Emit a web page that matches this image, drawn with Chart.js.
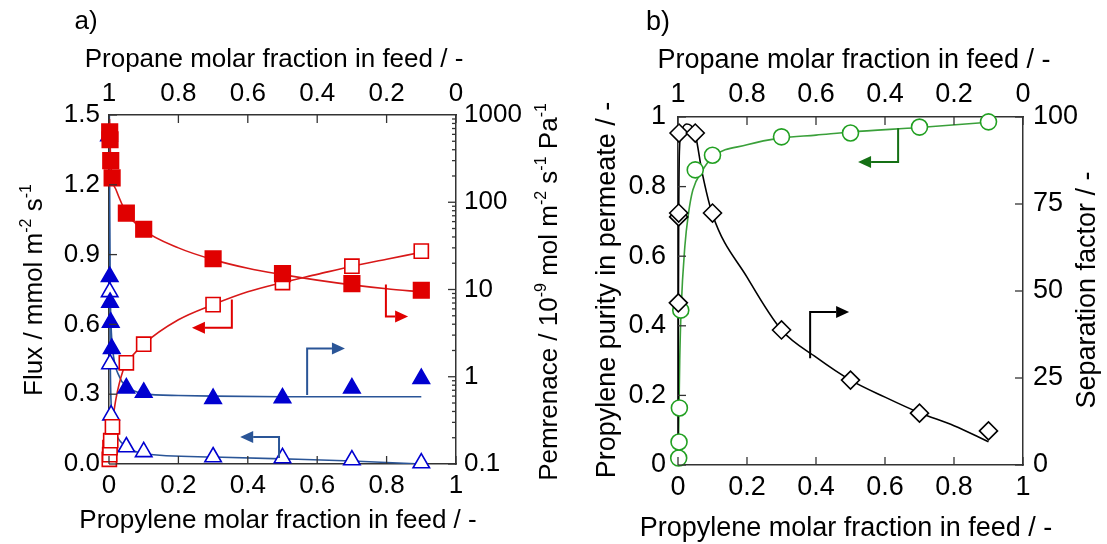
<!DOCTYPE html>
<html>
<head>
<meta charset="utf-8">
<script src="https://cdn.jsdelivr.net/npm/chart.js@4.4.1/dist/chart.umd.min.js"></script>
<style>
  html, body { margin: 0; padding: 0; background: #fff; }
  #wrap { position: relative; width: 1107px; height: 544px; }
  #chartA { position: absolute; left: 0; top: 0; }
  #chartB { position: absolute; left: 560px; top: 0; }
</style>
</head>
<body>
<div id="wrap">
  <canvas id="chartA" width="560" height="544"></canvas>
  <canvas id="chartB" width="547" height="544"></canvas>
</div>
<script>
// ============================================================================
// DATA
// ============================================================================

// tick labels
const fracTicks = [0, 0.2, 0.4, 0.6, 0.8, 1];
const fluxTicks = [0, 0.3, 0.6, 0.9, 1.2, 1.5];
const permTicks = [0.1, 1, 10, 100, 1000];
const purityTicks = [0, 0.2, 0.4, 0.6, 0.8, 1];
const sfTicks = [0, 25, 50, 75, 100];

// a) propylene: open squares = flux (left), filled squares = permeance (right)
const c3h6FluxX = [0.001, 0.002, 0.003, 0.005, 0.01, 0.05, 0.1, 0.3, 0.5, 0.7, 0.9];
const c3h6FluxY = [0.02, 0.04, 0.07, 0.10, 0.16, 0.435, 0.515, 0.685, 0.78, 0.85, 0.915];
const c3h6PermX = [0.002, 0.003, 0.005, 0.009, 0.05, 0.1, 0.3, 0.5, 0.7, 0.9];
const c3h6PermY = [640, 520, 300, 190, 75, 49, 22.5, 15.2, 11.7, 9.8];

// a) propane: open triangles = flux (left), filled triangles = permeance (right)
const c3h8FluxX = [0, 0.002, 0.003, 0.006, 0.05, 0.1, 0.3, 0.5, 0.7, 0.9];
const c3h8FluxY = [1.41, 0.74, 0.43, 0.21, 0.073, 0.052, 0.03, 0.026, 0.017, 0.004];
const c3h8PermX = [0.002, 0.003, 0.005, 0.008, 0.05, 0.1, 0.3, 0.5, 0.7, 0.9];
const c3h8PermY = [14, 7.1, 4.2, 2.1, 0.74, 0.66, 0.56, 0.57, 0.74, 0.95];

// a) fitted curves
const c3h6FluxFitX = [0, 0.002, 0.005, 0.01, 0.02, 0.04, 0.05, 0.1, 0.2, 0.3, 0.4, 0.5, 0.6, 0.7, 0.8, 0.9];
const c3h6FluxFitY = [0, 0.06, 0.12, 0.18, 0.28, 0.40, 0.43, 0.515, 0.62, 0.685, 0.74, 0.78, 0.815, 0.85, 0.88, 0.91];
const c3h6PermFitX = [0.0015, 0.003, 0.005, 0.009, 0.02, 0.05, 0.1, 0.2, 0.3, 0.4, 0.5, 0.6, 0.7, 0.8, 0.9];
const c3h6PermFitY = [900, 520, 300, 190, 140, 76, 48, 30, 22, 17.5, 14.8, 12.8, 11.3, 10.2, 9.4];
const c3h8FluxFitX = [0, 0.002, 0.004, 0.008, 0.02, 0.05, 0.1, 0.3, 0.5, 0.7, 0.9];
const c3h8FluxFitY = [1.5, 0.8, 0.4, 0.22, 0.13, 0.075, 0.045, 0.03, 0.022, 0.013, 0.0];
const c3h8PermFitX = [0.001, 0.002, 0.003, 0.005, 0.01, 0.03, 0.05, 0.1, 0.2, 0.3, 0.5, 0.7, 0.9];
const c3h8PermFitY = [1000, 60, 15, 5, 2.2, 1.0, 0.78, 0.64, 0.61, 0.6, 0.59, 0.59, 0.59];

// b) purity (circles, left) and separation factor (diamonds, right)
const purityX = [0.002, 0.003, 0.004, 0.008, 0.05, 0.1, 0.3, 0.5, 0.7, 0.9];
const purityY = [0.02, 0.066, 0.164, 0.445, 0.848, 0.89, 0.943, 0.954, 0.971, 0.986];
const sfX = [0.001, 0.002, 0.002, 0.003, 0.05, 0.1, 0.3, 0.5, 0.7, 0.9];
const sfY = [46.6, 71.3, 72.4, 95.4, 95.4, 72.4, 38.8, 24.4, 14.9, 9.8];

// b) fitted curves
const purityFitX = [0, 0.002, 0.005, 0.009, 0.02, 0.03, 0.043, 0.07, 0.1, 0.2, 0.3, 0.4, 0.5, 0.7, 0.9];
const purityFitY = [0, 0.1, 0.3, 0.445, 0.63, 0.72, 0.79, 0.845, 0.885, 0.92, 0.94, 0.948, 0.957, 0.97, 0.985];
const sfFitX = [0, 0.001, 0.002, 0.004, 0.01, 0.025, 0.05, 0.07, 0.1, 0.2, 0.3, 0.4, 0.5, 0.6, 0.7, 0.8, 0.9];
const sfFitY = [0, 40, 70, 90, 96, 98, 95, 84, 72, 54, 38.8, 31, 24.4, 19.5, 15, 11.3, 6.7];

// ============================================================================
// STYLE HELPERS
// ============================================================================

const FONT = '"Liberation Sans", Arial, Helvetica, sans-serif';
const AXIS = '#333';
const RED = '#e00000';
const BLUE = '#0000d0';
const BLUE_LINE = '#2a5597';
const GREEN = '#22a022';

const pts = (xs, ys) => xs.map((x, i) => ({ x: x, y: ys[i] }));
const fracLabel = v => (v === 0 || v === 1) ? String(v) : v.toFixed(1);

function markers(xs, ys, axis, style, radius, fill, stroke) {
    return {
        type: 'scatter', data: pts(xs, ys), yAxisID: axis, clip: false,
        pointStyle: style, pointRadius: radius, pointHoverRadius: radius,
        backgroundColor: fill, borderColor: stroke, borderWidth: 1.6
    };
}

function fitLine(xs, ys, axis, color) {
    return {
        type: 'line', data: pts(xs, ys), yAxisID: axis,
        borderColor: color, borderWidth: 1.6, pointRadius: 0,
        cubicInterpolationMode: 'monotone', fill: false
    };
}

function axis(position, ticksList, size, fmt, padding, fitSize, extra) {
    return Object.assign({
        type: 'linear', position: position,
        min: ticksList[0], max: ticksList[ticksList.length - 1],
        afterBuildTicks: s => { s.ticks = ticksList.map(v => ({ value: v })); },
        ticks: { font: { family: FONT, size: size }, color: '#000', padding: padding, callback: fmt, maxRotation: 0, autoSkip: false },
        grid: { display: false, drawTicks: false },
        border: { color: AXIS, width: 1.5 },
        afterFit: s => {
            if (position === 'left' || position === 'right') s.width = fitSize;
            else s.height = fitSize;
        }
    }, extra || {});
}

// ============================================================================
// PLUGINS: inward ticks, arrows, titles
// ============================================================================

function innerTicks(logRight) {
    return {
        id: 'innerTicks',
        afterDatasetsDraw(chart) {
            const { ctx, chartArea: a, scales } = chart;
            ctx.save();
            ctx.strokeStyle = AXIS;
            ctx.lineWidth = 1.3;
            const line = (x1, y1, x2, y2) => { ctx.beginPath(); ctx.moveTo(x1, y1); ctx.lineTo(x2, y2); ctx.stroke(); };
            scales.x.ticks.forEach(t => {
                const px = scales.x.getPixelForValue(t.value);
                line(px, a.bottom, px, a.bottom - 8);
                line(px, a.top, px, a.top + 8);
            });
            scales.yL.ticks.forEach(t => {
                const py = scales.yL.getPixelForValue(t.value);
                line(a.left, py, a.left + 8, py);
            });
            if (logRight) {
                [0.1, 1, 10, 100].forEach(d => {
                    for (let k = 1; k < 10; k++) {
                        const py = scales.yR.getPixelForValue(k * d);
                        line(a.right, py, a.right - (k === 1 ? 8 : 4), py);
                    }
                });
            } else {
                scales.yR.ticks.forEach(t => {
                    const py = scales.yR.getPixelForValue(t.value);
                    line(a.right, py, a.right - 8, py);
                });
            }
            ctx.restore();
        }
    };
}

function arrowPlugin(list) {
    return {
        id: 'arrows',
        afterDatasetsDraw(chart) {
            const { ctx, scales } = chart;
            list.forEach(ar => {
                const p = ar.path.map(([x, y]) => [scales.x.getPixelForValue(x), scales.yL.getPixelForValue(y)]);
                const [x1, y1] = p[p.length - 2];
                const [x2, y2] = p[p.length - 1];
                const ang = Math.atan2(y2 - y1, x2 - x1);
                const head = 13, half = 6;
                ctx.save();
                ctx.strokeStyle = ar.color;
                ctx.fillStyle = ar.color;
                ctx.lineWidth = 2;
                ctx.beginPath();
                p.forEach(([x, y], i) => {
                    if (i === p.length - 1) ctx.lineTo(x - head * Math.cos(ang), y - head * Math.sin(ang));
                    else if (i === 0) ctx.moveTo(x, y);
                    else ctx.lineTo(x, y);
                });
                ctx.stroke();
                ctx.beginPath();
                ctx.moveTo(x2, y2);
                ctx.lineTo(x2 - head * Math.cos(ang) - half * Math.sin(ang), y2 - head * Math.sin(ang) + half * Math.cos(ang));
                ctx.lineTo(x2 - head * Math.cos(ang) + half * Math.sin(ang), y2 - head * Math.sin(ang) - half * Math.cos(ang));
                ctx.closePath();
                ctx.fill();
                ctx.restore();
            });
        }
    };
}

// parts: [text, isSuperscript]
function richText(ctx, parts, x, y, size, rot) {
    ctx.save();
    ctx.translate(x, y);
    ctx.rotate(rot);
    ctx.fillStyle = '#000';
    ctx.textBaseline = 'alphabetic';
    const fontFor = sup => (sup ? Math.round(size * 0.62) : size) + 'px ' + FONT;
    let total = 0;
    parts.forEach(([t, sup]) => { ctx.font = fontFor(sup); total += ctx.measureText(t).width; });
    let cx = -total / 2;
    const base = size * 0.36;
    parts.forEach(([t, sup]) => {
        ctx.font = fontFor(sup);
        ctx.fillText(t, cx, sup ? base - size * 0.42 : base);
        cx += ctx.measureText(t).width;
    });
    ctx.restore();
}

function titlePlugin(list) {
    return {
        id: 'titles',
        afterDraw(chart) {
            list.forEach(t => richText(chart.ctx, t.parts, t.x, t.y, t.size, t.rot || 0));
        }
    };
}

// ============================================================================
// PANEL a)
// ============================================================================

const arrowsA = [
    { color: RED, path: [[0.354, 0.707], [0.354, 0.586], [0.239, 0.586]] },
    { color: RED, path: [[0.798, 0.772], [0.798, 0.634], [0.862, 0.634]] },
    { color: BLUE_LINE, path: [[0.571, 0.297], [0.571, 0.496], [0.680, 0.496]] },
    { color: BLUE_LINE, path: [[0.49, 0.026], [0.49, 0.116], [0.378, 0.116]] }
];

const titlesA = [
    { parts: [['a)', 0]], x: 86, y: 20, size: 26 },
    { parts: [['Propane molar fraction in feed / -', 0]], x: 274, y: 58, size: 26 },
    { parts: [['Propylene molar fraction in feed / -', 0]], x: 278, y: 519, size: 26 },
    { parts: [['Flux / mmol m', 0], ['-2', 1], [' s', 0], ['-1', 1]], x: 33, y: 290, size: 26, rot: -Math.PI / 2 },
    { parts: [['Pemrenace / 10', 0], ['-9', 1], [' mol m', 0], ['-2', 1], [' s', 0], ['-1', 1], [' Pa', 0], ['-1', 1]], x: 548, y: 292, size: 26, rot: -Math.PI / 2 }
];

new Chart(document.getElementById('chartA'), {
    data: {
        datasets: [
            markers(c3h6PermX, c3h6PermY, 'yR', 'rect', 11, RED, RED),
            markers(c3h6FluxX, c3h6FluxY, 'yL', 'rect', 10, '#fff', RED),
            markers(c3h8PermX, c3h8PermY, 'yR', 'triangle', 9.5, BLUE, BLUE),
            markers(c3h8FluxX, c3h8FluxY, 'yL', 'triangle', 9.5, '#fff', BLUE),
            fitLine(c3h6PermFitX, c3h6PermFitY, 'yR', '#d81818'),
            fitLine(c3h6FluxFitX, c3h6FluxFitY, 'yL', '#d81818'),
            fitLine(c3h8PermFitX, c3h8PermFitY, 'yR', BLUE_LINE),
            fitLine(c3h8FluxFitX, c3h8FluxFitY, 'yL', BLUE_LINE)
        ]
    },
    options: {
        responsive: false,
        animation: false,
        layout: { padding: 0 },
        plugins: { legend: { display: false }, tooltip: { enabled: false } },
        scales: {
            x: axis('bottom', fracTicks, 26, fracLabel, 6, 80),
            x2: axis('top', fracTicks, 26, fracLabel, 6, 115, { reverse: true }),
            yL: axis('left', fluxTicks, 26, v => v.toFixed(1), 9, 109),
            yR: axis('right', permTicks, 26, v => String(v), 8, 104, { type: 'logarithmic' })
        }
    },
    plugins: [innerTicks(true), arrowPlugin(arrowsA), titlePlugin(titlesA)]
});

// ============================================================================
// PANEL b)
// ============================================================================

const arrowsB = [
    { color: '#157015', path: [[0.638, 0.968], [0.638, 0.871], [0.522, 0.871]] },
    { color: '#000', path: [[0.383, 0.307], [0.383, 0.44], [0.496, 0.44]] }
];

const titlesB = [
    { parts: [['b)', 0]], x: 98, y: 20, size: 27 },
    { parts: [['Propane molar fraction in feed / -', 0]], x: 294, y: 58, size: 27 },
    { parts: [['Propylene molar fraction in feed / -', 0]], x: 286, y: 526, size: 27 },
    { parts: [['Propylene purity in permeate / -', 0]], x: 45, y: 290, size: 27, rot: -Math.PI / 2 },
    { parts: [['Separation factor / -', 0]], x: 525, y: 290, size: 27, rot: -Math.PI / 2 }
];

new Chart(document.getElementById('chartB'), {
    data: {
        datasets: [
            markers(sfX, sfY, 'yR', 'rectRot', 9, '#fff', '#000'),
            markers(purityX, purityY, 'yL', 'circle', 8, '#fff', GREEN),
            fitLine(sfFitX, sfFitY, 'yR', '#000'),
            fitLine(purityFitX, purityFitY, 'yL', '#3aa03a')
        ]
    },
    options: {
        responsive: false,
        animation: false,
        layout: { padding: 0 },
        plugins: { legend: { display: false }, tooltip: { enabled: false } },
        scales: {
            x: axis('bottom', fracTicks, 27, fracLabel, 6, 79),
            x2: axis('top', fracTicks, 27, fracLabel, 6, 117, { reverse: true }),
            yL: axis('left', purityTicks, 27, fracLabel, 12, 118),
            yR: axis('right', sfTicks, 27, v => String(v), 10, 84)
        }
    },
    plugins: [innerTicks(false), arrowPlugin(arrowsB), titlePlugin(titlesB)]
});
</script>
</body>
</html>
